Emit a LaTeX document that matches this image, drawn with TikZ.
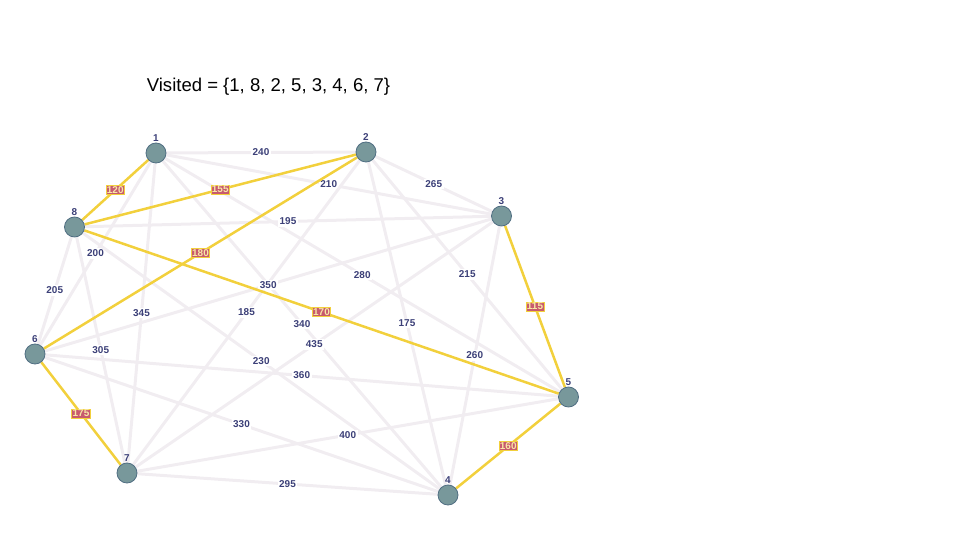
\documentclass[tikz,border=0pt]{standalone}
\usepackage{fontspec}
\setmainfont{Liberation Sans}
\usepackage{tikz}
\usetikzlibrary{backgrounds}
\definecolor{TourNavy}{HTML}{3C4078}
\definecolor{TourTeal}{HTML}{78989B}
\definecolor{TourRim}{HTML}{506E82}
\definecolor{TourGrey}{HTML}{F1EDF1}
\definecolor{TourGold}{HTML}{F2D03C}
\definecolor{TourRose}{HTML}{C85A6E}
\definecolor{TourCream}{HTML}{F7E7A6}
\begin{document}
\begin{tikzpicture}[
  x=1bp,y=-1bp,
  city/.style={circle,draw=TourRim,fill=TourTeal,line width=.8bp,minimum size=20bp,
    inner sep=0pt,label={[font=\bfseries\fontsize{10}{11}\selectfont,text=TourNavy,
    inner sep=1bp]above:#1}},
  road/.style={draw=TourGrey,line width=3bp},
  tour/.style={draw=TourGold,line width=2.5bp},
  cost/.style={fill=white,text=TourNavy,inner sep=1.5bp,
    font=\bfseries\fontsize{10}{11}\selectfont},
  pick/.style={fill=TourRose,draw=TourGold,line width=.8bp,text=TourCream,inner sep=1bp,
    font=\bfseries\fontsize{10}{11}\selectfont}
]
\useasboundingbox (0,0) rectangle (960,540);
\node[font=\fontsize{18.6}{22}\selectfont] (visited) at (268.5,87) {Visited = \{1, 8, 2, 5, 3, 4, 6, 7\}};
\node[city=1] (c1) at (156,153) {};
\node[city=2] (c2) at (366,152) {};
\node[city=3] (c3) at (501.5,216) {};
\node[city=4] (c4) at (448,495) {};
\node[city=5] (c5) at (568.5,397) {};
\node[city=6] (c6) at (35,354) {};
\node[city=7] (c7) at (127,473) {};
\node[city=8] (c8) at (74.5,227) {};
\begin{scope}[on background layer]
\draw[road] (c1) -- node[cost] {240} (c2);
\draw[road] (c1) -- node[cost] {210} (c3);
\draw[road] (c1) -- node[cost] {340} (c4);
\draw[road] (c1) -- node[cost] {280} (c5);
\draw[road] (c1) -- node[cost] {200} (c6);
\draw[road] (c1) -- node[cost] {345} (c7);
\draw[road] (c2) -- node[cost] {265} (c3);
\draw[road] (c2) -- node[cost] {175} (c4);
\draw[road] (c2) -- node[cost] {215} (c5);
\draw[road] (c2) -- node[cost] {185} (c7);
\draw[road] (c3) -- node[cost] {260} (c4);
\draw[road] (c3) -- node[cost] {350} (c6);
\draw[road] (c3) -- node[cost] {435} (c7);
\draw[road] (c3) -- node[cost] {195} (c8);
\draw[road] (c4) -- node[cost] {330} (c6);
\draw[road] (c4) -- node[cost] {295} (c7);
\draw[road] (c4) -- node[cost] {230} (c8);
\draw[road] (c5) -- node[cost] {360} (c6);
\draw[road] (c5) -- node[cost] {400} (c7);
\draw[road] (c6) -- node[cost] {205} (c8);
\draw[road] (c7) -- node[cost] {305} (c8);
\draw[tour] (c1) -- node[pick] {120} (c8);
\draw[tour] (c8) -- node[pick] {155} (c2);
\draw[tour] (c2) -- node[pick] {180} (c6);
\draw[tour] (c8) -- node[pick] {170} (c5);
\draw[tour] (c3) -- node[pick] {115} (c5);
\draw[tour] (c5) -- node[pick] {160} (c4);
\draw[tour] (c6) -- node[pick] {175} (c7);
\end{scope}
\end{tikzpicture}
\end{document}
